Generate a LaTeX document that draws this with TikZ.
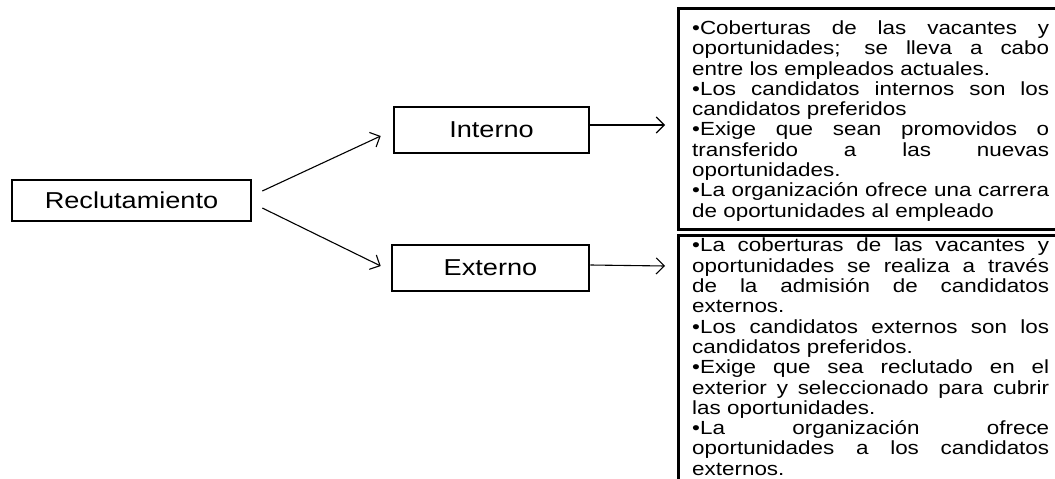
\documentclass[tikz,border=0pt]{standalone}
\usepackage{fontspec}
\setmainfont{Liberation Sans}[FakeStretch=1.18]
\usetikzlibrary{arrows.meta}
\newlength\rw \setlength\rw{357pt}
\newcommand\rsetup{\fontsize{19}{20.3}\selectfont\setlength{\parindent}{0pt}\setlength{\parskip}{0pt}\hyphenpenalty 10000 \exhyphenpenalty 10000 \tolerance 10000 \relax}
\begin{document}
\begin{tikzpicture}[x=1pt,y=-1pt,
  box/.style={draw=black, line width=2.6pt, inner sep=0pt, font=\fontsize{23}{27}\selectfont},
  rbox/.style={draw=black, line width=2.8pt, inner sep=0pt, anchor=north west},
  con/.style={line width=1.1pt, -{Straight Barb[length=8pt,width=16pt,line width=1.1pt]}},
  txt/.style={anchor=north west, inner sep=0pt, align=justify, text width=\rw, font=\rsetup}]
\useasboundingbox (0,0) rectangle (1055,479);
\clip (0,0) rectangle (1055,479);
\node[box, minimum width=239pt, minimum height=41pt] (rec) at (131.5,200.5) {Reclutamiento};
\node[box, minimum width=195pt, minimum height=46pt] (int) at (491.5,130) {Interno};
\node[box, minimum width=197pt, minimum height=46pt] (ext) at (490.5,268) {Externo};
\node[rbox, minimum width=386pt, minimum height=221pt] (tbox) at (677,7) {};
\node[rbox, minimum width=386pt, minimum height=270pt] (bbox) at (677,234) {};
\node[txt] (ttxt) at (692,20.5) {%
•Coberturas de las vacantes y\linebreak
oportunidades; se lleva a cabo\linebreak
entre los empleados actuales.\par
•Los candidatos internos son los\linebreak
candidatos preferidos\par
•Exige que sean promovidos o\linebreak
transferido a las nuevas\linebreak
oportunidades.\par
•La organización ofrece una carrera\linebreak
de oportunidades al empleado};
\node[txt] (btxt) at (692,238) {%
•La coberturas de las vacantes y\linebreak
oportunidades se realiza a través\linebreak
de la admisión de candidatos\linebreak
externos.\par
•Los candidatos externos son los\linebreak
candidatos preferidos.\par
•Exige que sea reclutado en el\linebreak
exterior y seleccionado para cubrir\linebreak
las oportunidades.\par
•La organización ofrece\linebreak
oportunidades a los candidatos\linebreak
externos.};
\draw[con] ([shift={(10pt,9.5pt)}]rec.east) -- ([shift={(-12pt,-6pt)}]int.west);
\draw[con] ([shift={(10pt,-7.5pt)}]rec.east) -- ([shift={(-10pt,2pt)}]ext.west);
\draw[con] ([yshift=5pt]int.east) -- ([shift={(-12pt,5pt)}]tbox.west |- int.east);
\draw[con] ([yshift=3pt]ext.east) -- ([shift={(-12pt,2pt)}]bbox.west |- ext.east);
\end{tikzpicture}
\end{document}
